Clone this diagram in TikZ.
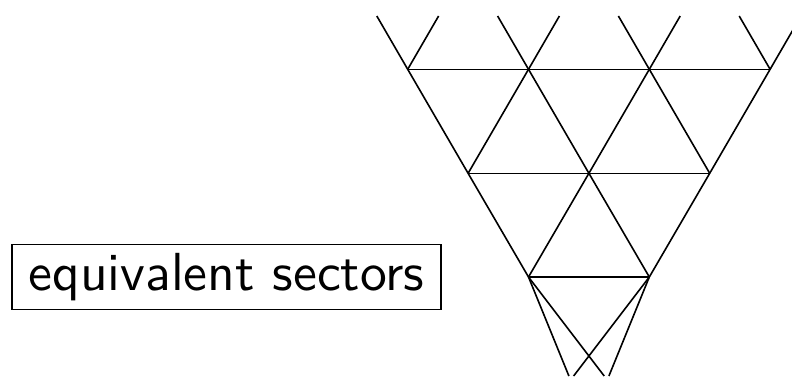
\documentclass[tikz,border=0pt]{standalone}
\usepackage{fontspec}
\begin{document}
\begin{tikzpicture}[x=1pt,y=-1pt,
  gridline/.style={line width=1.6pt, line join=miter},
  labelbox/.style={draw, line width=1.3pt, minimum width=429pt, minimum height=65pt, inner sep=0pt}]
\useasboundingbox (0,0) rectangle (792,376);
% vertices
\coordinate (A0) at (407.7,69.3);
\coordinate (A1) at (528.5,69.3);
\coordinate (A2) at (649.3,69.3);
\coordinate (A3) at (770.1,69.3);
\coordinate (B0) at (468.1,173.3);
\coordinate (B1) at (588.9,173.3);
\coordinate (B2) at (709.7,173.3);
\coordinate (C0) at (528.5,277);
\coordinate (C1) at (649.3,277);
% top free ends
\coordinate (T0l) at (376.8,16);
\coordinate (T0r) at (438.6,16);
\coordinate (T1l) at (497.6,16);
\coordinate (T1r) at (559.4,16);
\coordinate (T2l) at (618.4,16);
\coordinate (T2r) at (680.2,16);
\coordinate (T3l) at (739.2,16);
\coordinate (T3r) at (801.0,16);
% bottom free ends
\coordinate (D1) at (568.9,376);
\coordinate (D2) at (604.2,376);
\coordinate (D3) at (573.6,376);
\coordinate (D4) at (608.9,376);
\begin{scope}
\clip (0,0) rectangle (792,376);
\draw[gridline] (A0) -- (A3);
\draw[gridline] (B0) -- (B2);
\draw[gridline] (C0) -- (C1);
\draw[gridline] (T0l) -- (A0) -- (B0) -- (C0);
\draw[gridline] (T1l) -- (A1) -- (B1) -- (C1);
\draw[gridline] (T2l) -- (A2) -- (B2);
\draw[gridline] (T3l) -- (A3);
\draw[gridline] (T3r) -- (A3) -- (B2) -- (C1);
\draw[gridline] (T2r) -- (A2) -- (B1) -- (C0);
\draw[gridline] (T1r) -- (A1) -- (B0);
\draw[gridline] (T0r) -- (A0);
\draw[gridline] (C0) -- (D1);
\draw[gridline] (C0) -- (D2);
\draw[gridline] (C1) -- (D3);
\draw[gridline] (C1) -- (D4);
\end{scope}
\node[labelbox] (lbl) at (226.5,276.7) {\scalebox{5.36}{\sffamily\fontsize{10}{12}\selectfont equivalent sectors}};
\end{tikzpicture}
\end{document}
